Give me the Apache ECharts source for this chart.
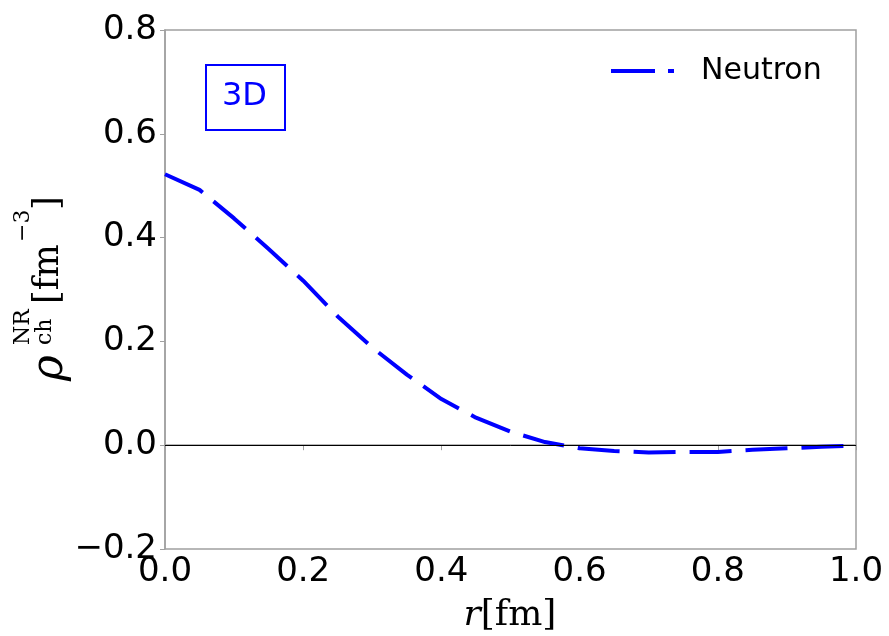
<!DOCTYPE html>
<html>
<head>
<meta charset="utf-8">
<script src="https://cdn.jsdelivr.net/npm/echarts@6/dist/echarts.min.js"></script>
<style>html,body{margin:0;padding:0;background:#fff;}#c{width:889px;height:636px;}</style>
</head>
<body>
<div id="c"></div>
<script>
// Data
var rValues = [0.00, 0.05, 0.10, 0.15, 0.20, 0.25, 0.30, 0.35, 0.40, 0.45, 0.50,
               0.55, 0.60, 0.65, 0.70, 0.75, 0.80, 0.85, 0.90, 0.95, 1.00];
var neutronRho = [0.522, 0.492, 0.437, 0.378, 0.317, 0.248, 0.188, 0.136, 0.089, 0.053, 0.026,
                  0.006, -0.006, -0.011, -0.014, -0.013, -0.013, -0.009, -0.006, -0.003, -0.001];
var seriesName = 'Neutron';
var panelTag = '3D';
var xTicks = [0, 0.2, 0.4, 0.6, 0.8, 1.0];
var yTicks = [-0.2, 0, 0.2, 0.4, 0.6, 0.8];

var chart = echarts.init(document.getElementById('c'), null, {renderer: 'canvas'});
var pts = rValues.map(function (r, i) { return [r, neutronRho[i]]; });
var sans = 'DejaVu Sans';
var serif = 'DejaVu Serif';
var axisGray = '#a0a0a0';

function fmt(v) {
  var s = (Math.abs(v) < 1e-9 ? 0 : v).toFixed(1);
  return s.replace('-', '\u2212');
}

chart.setOption({
  animation: false,
  backgroundColor: '#fff',
  grid: {left: 165, right: 33, top: 30, bottom: 87, show: true, borderColor: axisGray, borderWidth: 1.5, containLabel: false},
  xAxis: {
    type: 'value', min: xTicks[0], max: xTicks[xTicks.length - 1], interval: 0.2,
    axisLine: {show: true, lineStyle: {color: axisGray, width: 1.5}},
    axisTick: {show: true, inside: false, length: 5, lineStyle: {color: axisGray, width: 1}},
    axisLabel: {fontFamily: sans, fontSize: 34, color: '#000', margin: 6, formatter: fmt},
    splitLine: {show: false}
  },
  yAxis: {
    type: 'value', min: yTicks[0], max: yTicks[yTicks.length - 1], interval: 0.2,
    axisLine: {show: true, onZero: false, lineStyle: {color: axisGray, width: 1.5}},
    axisTick: {show: true, inside: false, length: 5, lineStyle: {color: axisGray, width: 1}},
    axisLabel: {fontFamily: sans, fontSize: 34, color: '#000', margin: 8, formatter: fmt},
    splitLine: {show: false}
  },
  legend: {
    show: true, left: 611, top: 56, padding: 0, orient: 'vertical',
    icon: 'path://M0,0H44V4H0Z M57,0H63V4H57Z',
    itemWidth: 63, itemHeight: 4,
    textStyle: {fontFamily: sans, fontSize: 30, color: '#000', padding: [0, 0, 0, 22]},
    data: [seriesName]
  },
  series: [{
    name: seriesName, type: 'line', data: pts, showSymbol: false, smooth: false,
    color: '#0000ff',
    lineStyle: {color: '#0000ff', width: 4, type: [42, 14], cap: 'butt', join: 'round'},
    markLine: {
      silent: true, symbol: 'none', label: {show: false},
      lineStyle: {color: '#000', width: 1, type: 'solid'},
      data: [{yAxis: 0}]
    },
    z: 3
  }],
  graphic: [
    {type: 'rect', left: 205, top: 64, shape: {width: 79, height: 65},
     style: {fill: '#fff', stroke: '#0000ff', lineWidth: 2}, z: 10},
    {type: 'text', x: 244.5, y: 97,
     style: {text: panelTag, fontFamily: sans, fontSize: 32, fill: '#0000ff', align: 'center', verticalAlign: 'middle'}, z: 11},
    {type: 'text', x: 510, y: 616,
     style: {
       text: '{i|r}{n|[fm]}', align: 'center', verticalAlign: 'middle',
       rich: {
         i: {fontFamily: serif, fontStyle: 'italic', fontSize: 36, fill: '#000'},
         n: {fontFamily: serif, fontSize: 36, fill: '#000'}
       }
     }},
    {type: 'group', x: 60, y: 380, rotation: Math.PI / 2,
     children: [
       {type: 'text', x: -1, y: -9, style: {text: '\u03c1', fontFamily: serif, fontStyle: 'italic', fontSize: 44, fill: '#000', verticalAlign: 'middle'}},
       {type: 'text', x: 35, y: -37, style: {text: 'NR', fontFamily: serif, fontSize: 22, fill: '#000', verticalAlign: 'middle'}},
       {type: 'text', x: 35, y: -15, style: {text: 'ch', fontFamily: serif, fontSize: 22, fill: '#000', verticalAlign: 'middle'}},
       {type: 'text', x: 76, y: -11, style: {text: '[fm', fontFamily: serif, fontSize: 35, fill: '#000', verticalAlign: 'middle'}},
       {type: 'text', x: 138, y: -37, style: {text: '\u22123', fontFamily: serif, fontSize: 22, fill: '#000', verticalAlign: 'middle'}},
       {type: 'text', x: 170, y: -11, style: {text: ']', fontFamily: serif, fontSize: 35, fill: '#000', verticalAlign: 'middle'}}
     ]}
  ]
});
</script>
</body>
</html>
